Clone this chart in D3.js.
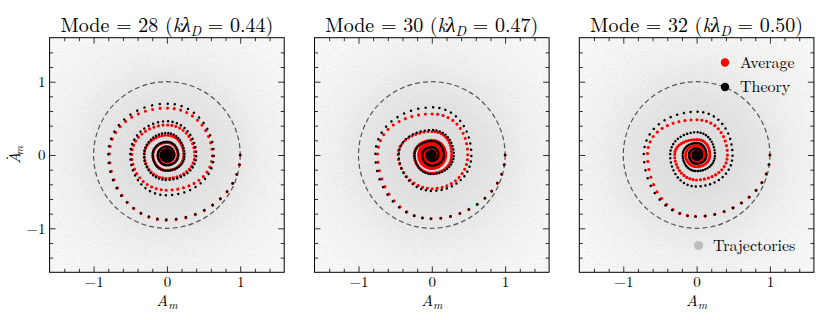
<!DOCTYPE html>
<html><head><meta charset="utf-8">
<script src="https://cdn.jsdelivr.net/npm/d3@7"></script>
<style>
body{margin:0;background:#fff}
svg{display:block}
</style>
</head><body>
<svg id="chart" width="830" height="320"></svg>
<script>
// ---------------- data ----------------
const modes = [28, 30, 32];
const kLambdaD = ["0.44", "0.47", "0.50"];

// radius of each spiral at successive quarter turns (right, bottom, left, top, right, ...)
const average28 = [1.00,0.89,0.785,0.64,0.62,0.48,0.48,0.41,0.38,0.32,0.31,0.27,0.23,0.21,0.19,0.17,0.15,0.135,0.12,0.11,0.10,0.09,0.08,0.072,0.065,0.06,0.055,0.05,0.045,0.04,0.036,0.032,0.028,0.025,0.022,0.02,0.018,0.016,0.014,0.012,0.011];
const theory28  = [1.00,0.88,0.80,0.70,0.64,0.55,0.50,0.46,0.40,0.34,0.31,0.30,0.24,0.215,0.195,0.18,0.155,0.14,0.125,0.115,0.10,0.09,0.082,0.075,0.065,0.058,0.053,0.048,0.042,0.037,0.034,0.031,0.027,0.024,0.022,0.02,0.017,0.015,0.013,0.012,0.01];
const average30 = [1.00,0.87,0.74,0.56,0.49,0.46,0.46,0.32,0.27,0.25,0.24,0.20,0.19,0.185,0.18,0.17,0.165,0.16,0.155,0.15,0.145,0.14,0.135,0.13,0.125,0.12,0.115,0.11,0.105,0.10,0.095,0.09,0.085,0.08,0.075,0.07,0.065,0.06,0.055,0.05,0.045];
const theory30  = [1.00,0.87,0.77,0.65,0.54,0.49,0.45,0.34,0.30,0.26,0.235,0.19,0.165,0.145,0.13,0.105,0.09,0.08,0.072,0.058,0.05,0.044,0.04,0.032,0.027,0.024,0.022,0.018,0.015,0.013,0.012,0.01,0.009,0.008,0.007,0.006,0.005,0.005,0.004,0.004,0.003];
const average32 = [1.00,0.84,0.67,0.48,0.42,0.34,0.30,0.21,0.18,0.16,0.15,0.13,0.115,0.105,0.095,0.085,0.075,0.068,0.062,0.055,0.05,0.045,0.04,0.036,0.032,0.029,0.026,0.023,0.02,0.018,0.016,0.014,0.012,0.011,0.01,0.009,0.008,0.007,0.006,0.005,0.005];
const theory32  = [1.00,0.84,0.72,0.59,0.49,0.43,0.36,0.31,0.25,0.22,0.19,0.165,0.135,0.12,0.105,0.09,0.075,0.065,0.057,0.05,0.042,0.036,0.031,0.027,0.023,0.02,0.017,0.015,0.013,0.011,0.01,0.009,0.008,0.007,0.006,0.005,0.004,0.004,0.003,0.003,0.002];

const averageSeries = [average28, average30, average32];
const theorySeries  = [theory28, theory30, theory32];

const axisDomain = [-1.6, 1.6];
const majorTicks = [-1, 0, 1];
const tickLabels = ["\u22121", "0", "1"];
const minorTicks = [-1.4,-1.2,-0.8,-0.6,-0.4,-0.2,0.2,0.4,0.6,0.8,1.2,1.4];
const legendLabels = ["Average", "Theory", "Trajectories"];

// ---------------- font: first installed serif face ----------------
const FONT = (function () {
  const cands = ["CMU Serif", "Latin Modern Roman", "Liberation Serif", "DejaVu Serif", "Noto Serif", "Tinos", "Times New Roman", "FreeSerif", "Nimbus Roman", "Times"];
  const ctx = document.createElement("canvas").getContext("2d");
  const probe = "Mode = 28 (kλ) Average Theory Trajectories 0123";
  ctx.font = "40px monospace"; const base = ctx.measureText(probe).width;
  for (const c of cands) {
    ctx.font = `40px "${c}", monospace`;
    if (Math.abs(ctx.measureText(probe).width - base) > 0.5) return `"${c}", serif`;
  }
  return '"Liberation Sans", sans-serif';
})();

// ---------------- layout / style ----------------
const svg = d3.select("#chart");
const centersX = [166.9, 431.8, 696.6];
const centerY = 155;
const half = 117.3;
const dotsPerQuarter = 11;
const RED = "#ff0000";

const defs = svg.append("defs");
const grain = defs.append("filter").attr("id", "grain")
  .attr("x", 0).attr("y", 0).attr("width", 1).attr("height", 1);
grain.append("feTurbulence").attr("type", "fractalNoise")
  .attr("baseFrequency", 0.9).attr("numOctaves", 2).attr("seed", 7);
grain.append("feColorMatrix").attr("type", "matrix")
  .attr("values", "0 0 0 0 0.5  0 0 0 0 0.5  0 0 0 0 0.5  3 0 0 0 -1.35");

// custom curve: cardinal spline whose first (helper) segment is not drawn
function phantomCardinal(context) {
  let skipped = false;
  const proxy = {
    moveTo() {},
    lineTo(x, y) { if (!skipped) { skipped = true; context.moveTo(x, y); } else context.lineTo(x, y); },
    bezierCurveTo(a, b, c, d, x, y) { if (!skipped) { skipped = true; context.moveTo(x, y); } else context.bezierCurveTo(a, b, c, d, x, y); },
    closePath() { context.closePath(); }
  };
  return d3.curveCardinal.tension(-0.65)(proxy);
}

function drawSpiral(g, radii, x, color, width) {
  const pts = [{k: -1, r: radii[0]}].concat(radii.map((r, k) => ({k, r})));
  const px = r => x(r) - x(0);
  const line = d3.lineRadial()
    .angle(d => Math.PI / 2 + d.k * Math.PI / 2)
    .radius(d => px(d.r))
    .curve(phantomCardinal);
  const path = g.append("path")
    .attr("d", line(pts))
    .attr("fill", "none")
    .attr("stroke", color)
    .attr("stroke-width", width)
    .attr("stroke-linecap", "round");
  // dotted style: even number of dots per quarter turn
  const approx = [];
  for (let k = 0; k < radii.length - 1; k++) approx.push(Math.PI / 2 * (px(radii[k]) + px(radii[k + 1])) / 2);
  const total = path.node().getTotalLength();
  const s = total / d3.sum(approx);
  const dash = [];
  approx.forEach(L => {
    const gap = L * s / dotsPerQuarter;
    for (let j = 0; j < dotsPerQuarter; j++) dash.push(0.01, Math.max(gap - 0.01, 0.01));
  });
  dash.push(0.01, 5000);
  path.attr("stroke-dasharray", dash.map(v => v.toFixed(3)).join(" "));
}

modes.forEach((mode, i) => {
  const cx = centersX[i];
  const x = d3.scaleLinear().domain(axisDomain).range([cx - half, cx + half]);
  const y = d3.scaleLinear().domain(axisDomain).range([centerY + half, centerY - half]);
  const g = svg.append("g");

  const clipId = "clip" + i;
  defs.append("clipPath").attr("id", clipId).append("rect")
    .attr("x", x(-1.6)).attr("y", y(1.6)).attr("width", x(1.6) - x(-1.6)).attr("height", y(-1.6) - y(1.6));
  const grad = defs.append("radialGradient").attr("id", "bg" + i)
    .attr("gradientUnits", "userSpaceOnUse")
    .attr("cx", x(0)).attr("cy", y(0)).attr("r", (x(1) - x(0)) * 2.1);
  [[0, "#dcdcdc"], [0.28, "#e2e2e2"], [0.48, "#eaeaea"], [0.62, "#f1f1f1"], [0.8, "#f6f6f6"], [1, "#fafafa"]]
    .forEach(([o, c]) => grad.append("stop").attr("offset", o).attr("stop-color", c));

  const inner = g.append("g").attr("clip-path", `url(#${clipId})`);
  inner.append("rect").attr("x", x(-1.6)).attr("y", y(1.6))
    .attr("width", x(1.6) - x(-1.6)).attr("height", y(-1.6) - y(1.6)).attr("fill", `url(#bg${i})`);
  inner.append("rect").attr("x", x(-1.6)).attr("y", y(1.6))
    .attr("width", x(1.6) - x(-1.6)).attr("height", y(-1.6) - y(1.6))
    .attr("filter", "url(#grain)").attr("opacity", 0.22);

  inner.append("circle").attr("cx", x(0)).attr("cy", y(0)).attr("r", x(1) - x(0))
    .attr("fill", "none").attr("stroke", "#555").attr("stroke-width", 1.2).attr("stroke-dasharray", "5 3");

  const sg = inner.append("g").attr("transform", `translate(${x(0)},${y(0)})`);
  drawSpiral(sg, averageSeries[i], x, RED, 3.1);
  drawSpiral(sg, theorySeries[i], x, "#000", 2.5);

  // axes (ticks inward on all sides)
  const fmt = (d) => tickLabels[majorTicks.indexOf(d)];
  const mk = (axis, vals, size, labels) => axis.tickValues(vals).tickSize(-size).tickPadding(4).tickFormat(labels ? fmt : () => "");
  const addAxis = (axisFn, scale, transform, labels) => {
    const a1 = g.append("g").attr("transform", transform).call(mk(axisFn(scale), majorTicks, 6, labels));
    const a2 = g.append("g").attr("transform", transform).call(mk(axisFn(scale), minorTicks, 3.5, false));
    [a1, a2].forEach(a => {
      a.attr("font-family", FONT).attr("font-size", 15);
      a.select(".domain").remove();
      a.selectAll("line").attr("stroke", "#000").attr("stroke-width", 0.8);
      a.selectAll("text").attr("fill", "#000");
    });
  };
  addAxis(d3.axisBottom, x, `translate(0,${y(-1.6)})`, true);
  addAxis(d3.axisTop, x, `translate(0,${y(1.6)})`, false);
  addAxis(d3.axisLeft, y, `translate(${x(-1.6)},0)`, i === 0);
  addAxis(d3.axisRight, y, `translate(${x(1.6)},0)`, false);

  g.append("rect").attr("x", x(-1.6)).attr("y", y(1.6))
    .attr("width", x(1.6) - x(-1.6)).attr("height", y(-1.6) - y(1.6))
    .attr("fill", "none").attr("stroke", "#000").attr("stroke-width", 1);

  // title
  const t = g.append("text").attr("x", cx).attr("y", 32).attr("text-anchor", "middle")
    .attr("font-size", 20).attr("font-family", FONT)
    .attr("textLength", 213).attr("lengthAdjust", "spacing");
  t.append("tspan").text(`Mode = ${mode} (`);
  t.append("tspan").attr("font-style", "italic").text("k\u03bb");
  t.append("tspan").attr("font-style", "italic").attr("font-size", 14).attr("dy", 4).text("D");
  t.append("tspan").attr("dy", -4).text(` = ${kLambdaD[i]})`);

  // x label
  const xl = g.append("text").attr("x", cx).attr("y", 306).attr("text-anchor", "middle")
    .attr("font-size", 16).attr("font-family", FONT);
  xl.append("tspan").attr("font-style", "italic").text("A");
  xl.append("tspan").attr("font-style", "italic").attr("font-size", 11.5).attr("dy", 3).text("m");

  if (i === 0) {
    const yl = g.append("text").attr("transform", `translate(20,${centerY}) rotate(-90)`)
      .attr("text-anchor", "middle").attr("font-size", 16).attr("font-family", FONT);
    yl.append("tspan").attr("font-style", "italic").text("A");
    yl.append("tspan").attr("dx", -8.2).attr("dy", -3.5).text("\u02d9");
    yl.append("tspan").attr("font-style", "italic").attr("font-size", 11.5).attr("dx", 0.5).attr("dy", 6.5).text("m");
  }

  if (i === 2) {
    const lg = g.append("g");
    const items = [
      {label: legendLabels[0], color: RED, cx: 725, cy: 62.5, tx: 740, r: 4.2},
      {label: legendLabels[1], color: "#000", cx: 725, cy: 87, tx: 740, r: 4.2},
      {label: legendLabels[2], color: "#bdbdbd", cx: 698.5, cy: 245.5, tx: 713, r: 4.6}
    ];
    items.forEach(it => {
      lg.append("circle").attr("cx", it.cx).attr("cy", it.cy).attr("r", it.r).attr("fill", it.color);
      lg.append("text").attr("x", it.tx).attr("y", it.cy + 5).attr("font-size", 16)
        .attr("font-family", FONT).text(it.label);
    });
  }
});
</script>
</body></html>
